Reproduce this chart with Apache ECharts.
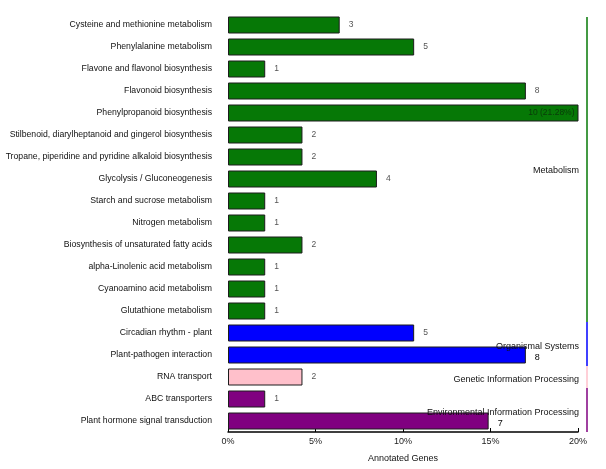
<!DOCTYPE html>
<html>
<head>
<meta charset="utf-8">
<script src="https://cdn.jsdelivr.net/npm/echarts@6/dist/echarts.min.js"></script>
<style>
  html, body { margin: 0; padding: 0; background: #fff; }
  #main { width: 606px; height: 469px; }
</style>
</head>
<body>
<div id="main"></div>
<script>
var pathways = [
  'Cysteine and methionine metabolism',
  'Phenylalanine metabolism',
  'Flavone and flavonol biosynthesis',
  'Flavonoid biosynthesis',
  'Phenylpropanoid biosynthesis',
  'Stilbenoid, diarylheptanoid and gingerol biosynthesis',
  'Tropane, piperidine and pyridine alkaloid biosynthesis',
  'Glycolysis / Gluconeogenesis',
  'Starch and sucrose metabolism',
  'Nitrogen metabolism',
  'Biosynthesis of unsaturated fatty acids',
  'alpha-Linolenic acid metabolism',
  'Cyanoamino acid metabolism',
  'Glutathione metabolism',
  'Circadian rhythm - plant',
  'Plant-pathogen interaction',
  'RNA transport',
  'ABC transporters',
  'Plant hormone signal transduction'
];
var geneCounts = [3, 5, 1, 8, 10, 2, 2, 4, 1, 1, 2, 1, 1, 1, 5, 8, 2, 1, 7];
var totalGenes = 47;
// group of each pathway: 0 Metabolism, 1 Organismal, 2 Genetic, 3 Environmental
var pathwayGroup = [0, 0, 0, 0, 0, 0, 0, 0, 0, 0, 0, 0, 0, 0, 1, 1, 2, 3, 3];
var groupNames = ['Metabolism', 'Organismal Systems', 'Genetic Information Processing', 'Environmental Information Processing'];
var groupColors = ['#067806', '#0000ff', '#ffc0cb', '#800080'];
var groupRanges = [[0, 13], [14, 15], [16, 16], [17, 18]];
var tickLabels = ['0%', '5%', '10%', '15%', '20%'];

var xMax = 20;

var barData = geneCounts.map(function (c, i) {
  var pct = c / totalGenes * 100;
  var item = {
    value: pct,
    itemStyle: { color: groupColors[pathwayGroup[i]] }
  };
  if (pct > xMax) {
    item.label = {
      position: 'insideRight',
      distance: 4,
      color: '#0a3a0a',
      fontSize: 8.5,
      formatter: c + ' (' + pct.toFixed(2) + '%)'
    };
  } else if (pathwayGroup[i] === 1 && c === 8 || pathwayGroup[i] === 3 && c === 7) {
    item.label = { color: '#000', fontSize: 9, offset: [0, 3] };
  }
  return item;
});

var groupData = groupRanges.map(function (r, g) {
  return [0, r[0], r[1], g];
});

var myChart = echarts.init(document.getElementById('main'));
var option = {
  animation: false,
  backgroundColor: '#fff',
  textStyle: { fontFamily: 'Liberation Sans' },
  grid: { left: 228, right: 28, top: 14, bottom: 37, containLabel: false },
  xAxis: {
    type: 'value',
    min: 0,
    max: xMax,
    interval: 5,
    splitLine: { show: false },
    axisLine: { show: true, lineStyle: { color: '#000', width: 1.5 } },
    axisTick: { show: true, inside: true, length: 4, lineStyle: { color: '#000' } },
    axisLabel: {
      fontSize: 9, color: '#222', margin: 5,
      formatter: function (v) { return tickLabels[Math.round(v / 5)]; }
    },
    name: 'Annotated Genes',
    nameLocation: 'middle',
    nameGap: 22,
    nameTextStyle: { fontSize: 9, color: '#111' }
  },
  yAxis: {
    type: 'category',
    inverse: true,
    data: pathways,
    axisLine: { show: false },
    axisTick: { show: false },
    axisLabel: { fontSize: 8.7, color: '#111', margin: 16 }
  },
  series: [
    {
      type: 'bar',
      data: barData,
      barWidth: 17,
      itemStyle: { borderColor: '#1c1c1c', borderWidth: 1 },
      label: {
        show: true,
        position: 'right',
        distance: 9,
        fontSize: 8.5,
        color: '#555',
        formatter: function (p) { return geneCounts[p.dataIndex]; }
      }
    },
    {
      type: 'custom',
      z: 5,
      data: groupData,
      encode: { x: 0, y: 1 },
      renderItem: function (params, api) {
        var cs = params.coordSys;
        var band = api.size([0, 1])[1];
        var y0 = api.coord([0, api.value(1)])[1] - band / 2;
        var y1 = api.coord([0, api.value(2)])[1] + band / 2;
        var g = api.value(3);
        var lx = cs.x + cs.width + 9;
        return {
          type: 'group',
          children: [
            {
              type: 'line',
              shape: { x1: lx, y1: y0 + (g === 0 ? 3 : 0), x2: lx, y2: y1 },
              style: { stroke: groupColors[g], lineWidth: 1.5 }
            },
            {
              type: 'text',
              x: cs.x + cs.width + 1,
              y: (y0 + y1) / 2 + 3,
              style: {
                text: groupNames[g],
                align: 'right',
                verticalAlign: 'middle',
                fontSize: 9,
                fontFamily: 'Liberation Sans',
                fill: '#111'
              }
            }
          ]
        };
      }
    }
  ]
};
myChart.setOption(option);
</script>
</body>
</html>
